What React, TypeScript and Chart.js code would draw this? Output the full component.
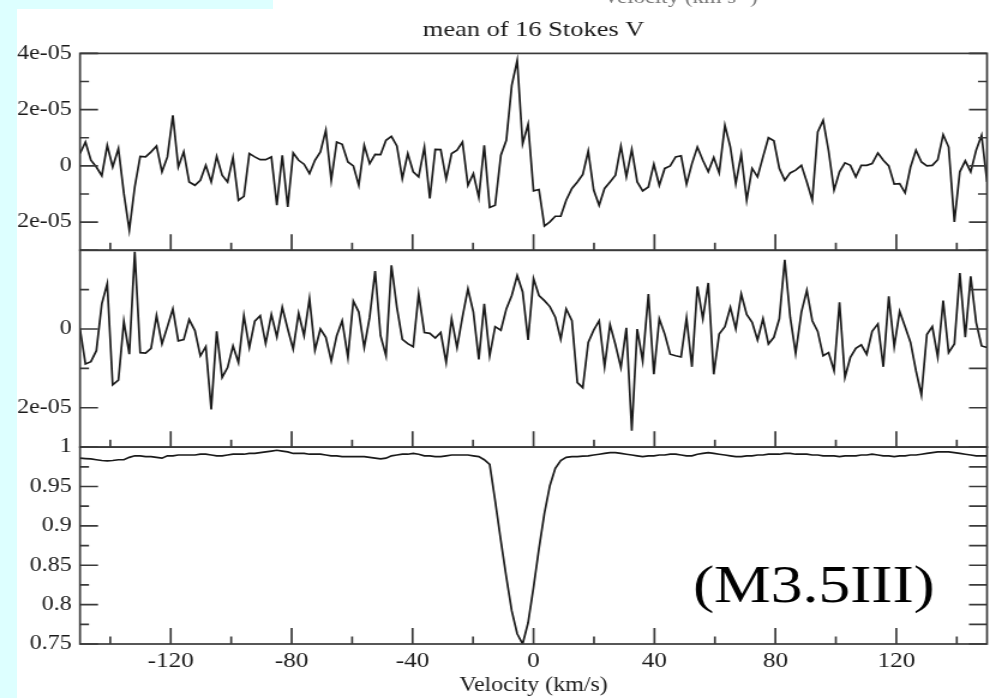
import React, { useEffect, useRef } from 'react';
import { Chart, registerables } from 'chart.js';

Chart.register(...registerables);

// ---------------- data ----------------
const TITLE = 'mean of 16 Stokes V';
const X_TITLE = 'Velocity (km/s)';
const STAR_LABEL = '(M3.5III)';
const CROPPED_HEADER = 'Velocity (km s\u207B\u00B9)';

// velocity grid (km/s)
const VELOCITY = [
  -150.0, -148.2, -146.4, -144.6, -142.8, -141.0, -139.2, -137.3, -135.5, -133.7,
  -131.9, -130.1, -128.3, -126.5, -124.7, -122.9, -121.1, -119.3, -117.5, -115.7,
  -113.9, -112.0, -110.2, -108.4, -106.6, -104.8, -103.0, -101.2, -99.4, -97.6,
  -95.8, -94.0, -92.2, -90.4, -88.6, -86.7, -84.9, -83.1, -81.3, -79.5,
  -77.7, -75.9, -74.1, -72.3, -70.5, -68.7, -66.9, -65.1, -63.3, -61.4,
  -59.6, -57.8, -56.0, -54.2, -52.4, -50.6, -48.8, -47.0, -45.2, -43.4,
  -41.6, -39.8, -38.0, -36.1, -34.3, -32.5, -30.7, -28.9, -27.1, -25.3,
  -23.5, -21.7, -19.9, -18.1, -16.3, -14.5, -12.7, -10.8, -9.0, -7.2,
  -5.4, -3.6, -1.8, 0.0, 1.8, 3.6, 5.4, 7.2, 9.0, 10.8,
  12.7, 14.5, 16.3, 18.1, 19.9, 21.7, 23.5, 25.3, 27.1, 28.9,
  30.7, 32.5, 34.3, 36.1, 38.0, 39.8, 41.6, 43.4, 45.2, 47.0,
  48.8, 50.6, 52.4, 54.2, 56.0, 57.8, 59.6, 61.4, 63.3, 65.1,
  66.9, 68.7, 70.5, 72.3, 74.1, 75.9, 77.7, 79.5, 81.3, 83.1,
  84.9, 86.7, 88.6, 90.4, 92.2, 94.0, 95.8, 97.6, 99.4, 101.2,
  103.0, 104.8, 106.6, 108.4, 110.2, 112.0, 113.9, 115.7, 117.5, 119.3,
  121.1, 122.9, 124.7, 126.5, 128.3, 130.1, 131.9, 133.7, 135.5, 137.3,
  139.2, 141.0, 142.8, 144.6, 146.4, 148.2, 150.0,
];

// Stokes V / Ic (units of 1e-5)
const STOKES_V = [
  0.44, 0.85, 0.2, -0.04, -0.35, 0.73, -0.04, 0.62, -0.98, -2.28,
  -0.75, 0.34, 0.32, 0.5, 0.71, -0.21, 0.32, 1.8, -0.04, 0.5,
  -0.57, -0.69, -0.51, 0.02, -0.57, 0.34, -0.33, -0.57, 0.3, -1.22,
  -1.08, 0.44, 0.32, 0.22, 0.22, 0.32, -1.4, 0.38, -1.46, 0.46,
  0.2, 0.06, -0.27, 0.2, 0.5, 1.27, -0.51, 0.85, 0.77, 0.14,
  0, -0.69, 0.73, 0.08, 0.41, 0.4, 0.91, 1.05, 0.71, -0.45,
  0.44, -0.21, -0.39, 0.67, -1.16, 0.59, 0.58, -0.47, 0.44, 0.56,
  0.85, -0.69, -0.27, -1.12, 0.73, -1.48, -1.4,
  0.38, 0.91, 2.86, 3.75, 0.79, 1.48, -0.89, -0.84, -2.14, -1.99,
  -1.79, -1.79, -1.22, -0.8, -0.57, -0.3, 0.53, -0.86, -1.4, -0.8,
  -0.57, -0.33, 0.7, -0.39, 0.59, -0.57, -0.89, -0.75, 0.06, -0.69,
  -0.09, 0, 0.32, 0.36, -0.65, 0.08, 0.67, 0.2, -0.21, 0.3,
  -0.25, 1.44, 0.67, -0.63, 0.41, -1.22, -0.09, -0.39, 0.32, 1.0,
  0.89, -0.09, -0.51, -0.25, -0.15, 0.02, -0.57, -1.22, 1.21, 1.62,
  0.53, -0.86, -0.21, 0.11, 0.02, -0.39, 0.02, 0.02, 0.08, 0.46,
  0.2, 0, -0.65, -0.63, -0.96, -0.04, 0.56, 0.14, 0, 0.02,
  0.22, 1.11, 0.67, -1.99, -0.21, 0.18, -0.21, 0.56, 1.09, -0.57,
];

// Null profile N / Ic (units of 1e-5)
const NULL_N = [
  0, -0.89, -0.83, -0.55, 0.64, 1.15, -1.42, -1.3, 0.19, -0.64,
  1.96, -0.6, -0.61, -0.49, 0.34, -0.38, 0.06, 0.51, -0.3, -0.27,
  0.24, -0.04, -0.68, -0.45, -2.04, -0.06, -1.23, -0.98, -0.43, -0.85,
  0.34, -0.47, 0.2, 0.34, -0.37, 0.37, -0.2, 0.55, 0, -0.51,
  0.4, -0.17, 0.77, -0.54, 0, -0.21, -0.81, -0.17, 0.21, -0.72,
  0.71, 0.43, -0.47, 0.3, 1.47, -0.17, -0.68, 1.62, 0.55, -0.26,
  -0.37, -0.45, 0.89, -0.09, -0.11, -0.23, -0.09, -0.85, 0.26, -0.47,
  0.31, 1.02, 0.43, -0.77, 0.64, -0.68, 0.06,
  -0.03, 0.51, 0.85, 1.36, 0.94, -0.28, 1.28, 0.85, 0.72, 0.57,
  0.3, -0.26, 0.51, 0.21, -1.36, -1.49, -0.34, -0.03, 0.21, -0.96,
  0.11, -0.4, -0.98, 0.03, -2.58, 0, -0.81, 0.89, -1.15, 0.26,
  -0.13, -0.64, -0.68, -0.71, 0.28, -0.96, 1.08, 0.26, 1.17, -1.15,
  -0.13, 0.06, 0.55, 0, 0.89, 0.37, 0.17, -0.28, 0.26, -0.38,
  -0.21, 0.26, 1.76, 0.3, -0.62, 0.43, 0.98, 0.21, -0.06, -0.68,
  -0.6, -1.06, 0.68, -1.23, -0.72, -0.49, -0.4, -0.64, -0.06, 0.13,
  -0.96, 0.83, -0.45, 0.45, 0.06, -0.34, -1.06, -1.68, -0.14, 0.06,
  -0.71, 0.72, -0.6, -0.38, 1.42, -0.21, 1.34, 0.17, -0.43, -0.47,
];

// Stokes I / Ic
const STOKES_I = [
  0.986, 0.9855, 0.985, 0.984, 0.983, 0.9826, 0.983, 0.984, 0.984, 0.987,
  0.989, 0.989, 0.988, 0.988, 0.987, 0.986, 0.989, 0.989, 0.990, 0.990,
  0.990, 0.990, 0.991, 0.991, 0.990, 0.989, 0.989, 0.990, 0.991, 0.991,
  0.991, 0.992, 0.992, 0.993, 0.994, 0.995, 0.996, 0.995, 0.994, 0.992,
  0.992, 0.992, 0.991, 0.991, 0.991, 0.990, 0.989, 0.989, 0.988, 0.988,
  0.988, 0.988, 0.988, 0.987, 0.986, 0.985, 0.986, 0.989, 0.990, 0.991,
  0.991, 0.992, 0.991, 0.989, 0.989, 0.988, 0.988, 0.989, 0.990, 0.990,
  0.990, 0.990, 0.989, 0.988, 0.984, 0.978, 0.932, 0.881, 0.835, 0.792,
  0.763, 0.750, 0.777, 0.822, 0.871, 0.916, 0.951, 0.973, 0.983, 0.987,
  0.988, 0.988, 0.9885, 0.989, 0.990, 0.991, 0.992, 0.993, 0.993, 0.992,
  0.991, 0.990, 0.989, 0.988, 0.989, 0.989, 0.990, 0.990, 0.991, 0.991,
  0.990, 0.989, 0.989, 0.991, 0.992, 0.993, 0.992, 0.991, 0.990, 0.989,
  0.988, 0.988, 0.989, 0.989, 0.990, 0.990, 0.991, 0.991, 0.991, 0.992,
  0.992, 0.991, 0.991, 0.991, 0.990, 0.990, 0.989, 0.989, 0.989, 0.988,
  0.989, 0.989, 0.989, 0.990, 0.990, 0.991, 0.990, 0.989, 0.989, 0.988,
  0.989, 0.989, 0.990, 0.990, 0.991, 0.992, 0.993, 0.994, 0.994, 0.994,
  0.993, 0.992, 0.991, 0.990, 0.989, 0.989, 0.989,
];

// ticks
const X_TICKS = [-120, -80, -40, 0, 40, 80, 120];
const X_TICK_LABELS = ['-120', '-80', '-40', '0', '40', '80', '120'];
const X_MINOR = [-140, -100, -60, -20, 20, 60, 100, 140];

const V_TICKS = [-2, 0, 2, 4];
const V_TICK_LABELS = ['-2e-05', '0', '2e-05', '4e-05'];
const V_MINOR = [-3, -1, 1, 3];

const N_TICKS = [-2, 0];
const N_TICK_LABELS = ['-2e-05', '0'];
const N_MAJOR = [-2, 0, 2];
const N_MINOR = [-3, -1, 1];

const I_TICKS = [0.75, 0.8, 0.85, 0.9, 0.95, 1];
const I_TICK_LABELS = ['0.75', '0.8', '0.85', '0.9', '0.95', '1'];
const I_MINOR = [0.775, 0.825, 0.875, 0.925, 0.975];

// ---------------- styling ----------------
const STRETCH = 1.2;
const CW = 825;
const CH = 698;
const SERIF = '"Liberation Serif", "Times New Roman", Times, serif';
const CYAN = '#ddffff';
const AXIS_COLOR = '#3a3a3a';
const LINE_COLOR = '#1a1a1a';
const TEXT_COLOR = '#1a1a1a';

const PANELS = [
  { id: 'yV', major: V_TICKS, minor: V_MINOR, rightAllMajor: false },
  { id: 'yN', major: N_MAJOR, minor: N_MINOR, rightAllMajor: true },
  { id: 'yI', major: I_TICKS, minor: I_MINOR, rightAllMajor: true },
];

const framePlugin = {
  id: 'framePlugin',
  afterDatasetsDraw(chart: any) {
    const { ctx, chartArea } = chart;
    const { left, right } = chartArea;
    const xs = chart.scales.x;
    ctx.save();
    ctx.strokeStyle = AXIS_COLOR;
    ctx.lineWidth = 1.7;
    const yMajorLen = 15;
    const yMinorLen = 7.5;
    const xMajorLen = 16;
    const xMinorLen = 7.5;
    PANELS.forEach((p) => {
      const s = chart.scales[p.id];
      ctx.strokeRect(left, s.top, right - left, s.bottom - s.top);
      ctx.beginPath();
      X_TICKS.forEach((v) => {
        const px = xs.getPixelForValue(v);
        ctx.moveTo(px, s.bottom);
        ctx.lineTo(px, s.bottom - xMajorLen);
      });
      X_MINOR.forEach((v) => {
        const px = xs.getPixelForValue(v);
        ctx.moveTo(px, s.bottom);
        ctx.lineTo(px, s.bottom - xMinorLen);
      });
      p.major.forEach((v) => {
        const py = s.getPixelForValue(v);
        ctx.moveTo(left, py);
        ctx.lineTo(left + yMajorLen, py);
        ctx.moveTo(right, py);
        ctx.lineTo(right - yMajorLen, py);
      });
      p.minor.forEach((v) => {
        const py = s.getPixelForValue(v);
        ctx.moveTo(left, py);
        ctx.lineTo(left + yMinorLen, py);
        ctx.moveTo(right, py);
        ctx.lineTo(right - (p.rightAllMajor ? yMajorLen : yMinorLen), py);
      });
      ctx.stroke();
    });

    // star label in bottom panel
    const yI = chart.scales.yI;
    ctx.fillStyle = '#000';
    ctx.font = `53px ${SERIF}`;
    ctx.textAlign = 'right';
    ctx.textBaseline = 'alphabetic';
    ctx.fillText(STAR_LABEL, right - 43.5, yI.bottom - 42);

    // cropped header text from the panel above (only its lower edge shows)
    ctx.fillStyle = '#777';
    ctx.font = `19px ${SERIF}`;
    ctx.textAlign = 'center';
    ctx.fillText(CROPPED_HEADER, 567, 3);
    ctx.restore();
  },
};

const tickFont = { family: SERIF, size: 20, weight: 'normal' as const };

function yAxis(weight: number, min: number, max: number, ticks: number[], labels: string[]) {
  return {
    type: 'linear' as const,
    position: 'left' as const,
    stack: 'panels',
    stackWeight: 1,
    weight,
    min,
    max,
    grid: { display: false, drawTicks: false },
    border: { display: false },
    afterBuildTicks: (s: any) => {
      s.ticks = ticks.map((v) => ({ value: v }));
    },
    afterFit: (s: any) => {
      s.width = 80 / STRETCH;
    },
    ticks: {
      font: tickFont,
      color: TEXT_COLOR,
      padding: 7,
      autoSkip: false,
      callback: (v: any) => {
        const i = ticks.indexOf(Number(v));
        return i >= 0 ? labels[i] : '';
      },
    },
  };
}

export default function App() {
  const ref = useRef<HTMLCanvasElement>(null);

  useEffect(() => {
    if (!ref.current) return;
    const lineStyle = {
      borderColor: LINE_COLOR,
      borderWidth: 1.7,
      pointRadius: 0,
      fill: false,
      tension: 0,
    };
    const chart = new Chart(ref.current, {
      type: 'line',
      data: {
        datasets: [
          { ...lineStyle, label: 'V', yAxisID: 'yV', data: VELOCITY.map((x, i) => ({ x, y: STOKES_V[i] })) },
          { ...lineStyle, label: 'N', yAxisID: 'yN', data: VELOCITY.map((x, i) => ({ x, y: NULL_N[i] })) },
          { ...lineStyle, label: 'I', yAxisID: 'yI', data: VELOCITY.map((x, i) => ({ x, y: STOKES_I[i] })) },
        ],
      },
      options: {
        responsive: false,
        animation: false,
        devicePixelRatio: 1,
        layout: { padding: { left: 0, right: CW - 987 / STRETCH, top: 0, bottom: 0 } },
        plugins: {
          legend: { display: false },
          tooltip: { enabled: false },
          title: {
            display: true,
            text: TITLE,
            fullSize: false,
            color: TEXT_COLOR,
            font: { family: SERIF, size: 22, weight: 'normal' },
            padding: { top: 17, bottom: 10 },
          },
        },
        scales: {
          x: {
            type: 'linear',
            position: 'bottom',
            min: -150,
            max: 150,
            grid: { display: false, drawTicks: false },
            border: { display: false },
            afterBuildTicks: (s: any) => {
              s.ticks = X_TICKS.map((v) => ({ value: v }));
            },
            afterFit: (s: any) => {
              s.height = 54;
            },
            ticks: {
              font: { family: SERIF, size: 21, weight: 'normal' },
              color: TEXT_COLOR,
              padding: 5,
              maxRotation: 0,
              autoSkip: false,
              callback: (v: any) => {
                const i = X_TICKS.indexOf(Number(v));
                return i >= 0 ? X_TICK_LABELS[i] : '';
              },
            },
            title: {
              display: true,
              text: X_TITLE,
              color: TEXT_COLOR,
              font: { family: SERIF, size: 20, weight: 'normal' },
              padding: { top: 0, bottom: 0 },
            },
          },
          yI: yAxis(1, 0.75, 1, I_TICKS, I_TICK_LABELS),
          yN: yAxis(2, -3, 2, N_TICKS, N_TICK_LABELS),
          yV: yAxis(3, -3, 4, V_TICKS, V_TICK_LABELS),
        },
      } as any,
      plugins: [framePlugin],
    });
    return () => chart.destroy();
  }, []);

  return (
    <div
      style={{
        position: 'fixed',
        left: 0,
        top: 0,
        width: 990,
        height: 698,
        background: '#ffffff',
        overflow: 'hidden',
      }}
    >
      <div
        style={{
          position: 'absolute',
          left: 0,
          top: 0,
          width: CW,
          height: CH,
          transform: `scaleX(${STRETCH})`,
          transformOrigin: '0 0',
        }}
      >
        <canvas ref={ref} width={CW} height={CH} style={{ display: 'block', width: CW, height: CH }} />
      </div>
      <div style={{ position: 'absolute', left: 0, top: 0, width: 17, height: CH, background: CYAN }} />
      <div style={{ position: 'absolute', left: 0, top: 0, width: 273, height: 9, background: CYAN }} />
    </div>
  );
}
